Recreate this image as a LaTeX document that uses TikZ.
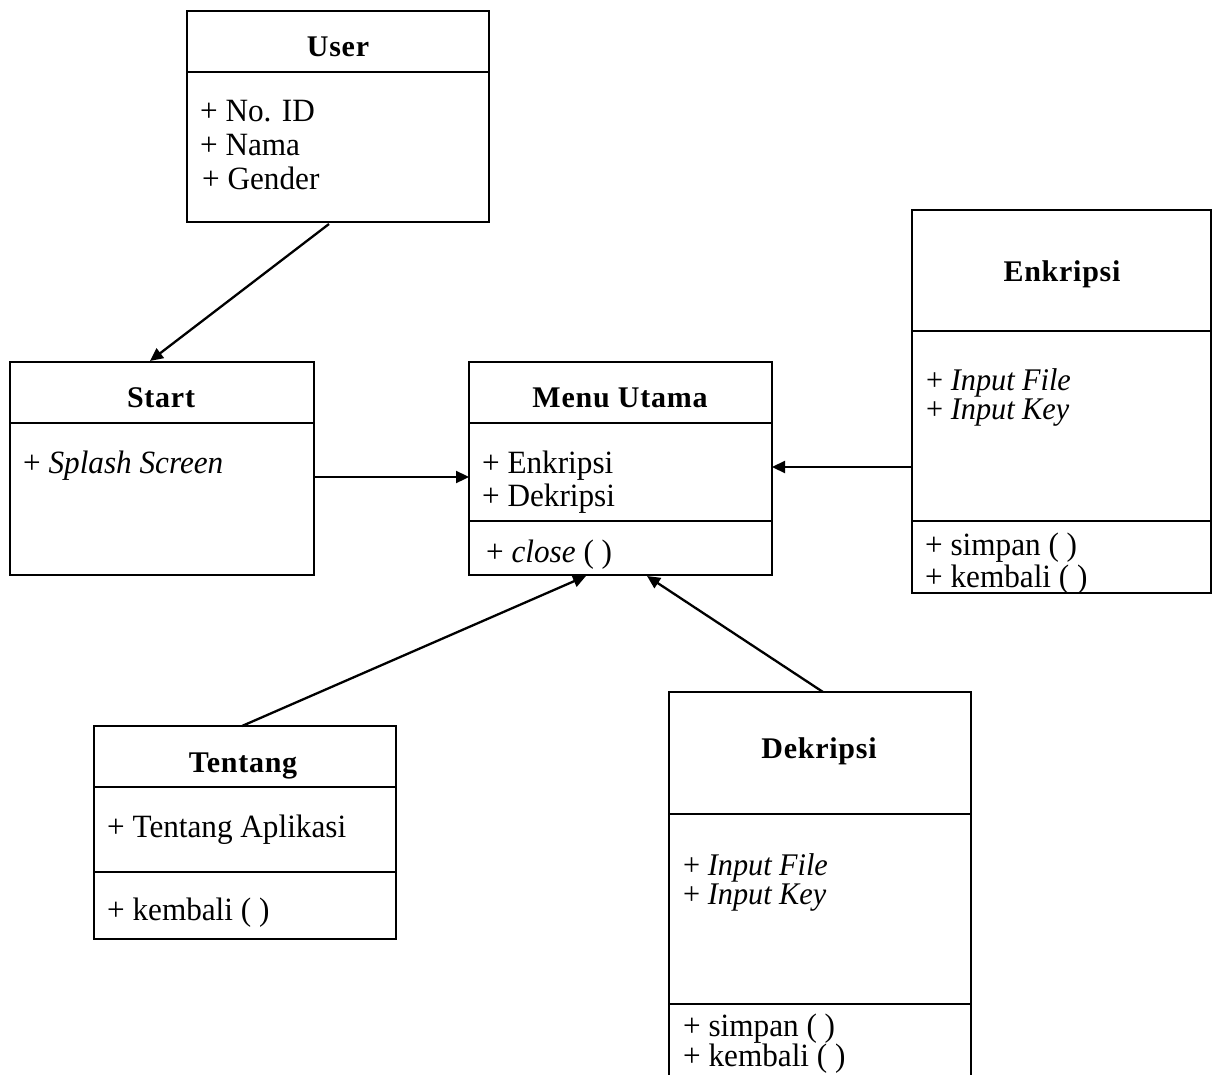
\documentclass[tikz,border=0pt]{standalone}
\usepackage{fontspec}
\setmainfont{Liberation Serif}
\newfontfamily\attrfont{Liberation Serif}[FakeStretch=0.96]
\newfontfamily\titlefont{Liberation Serif}[LetterSpace=2.5]
\usetikzlibrary{arrows.meta}
\begin{document}
\begin{tikzpicture}[x=1pt,y=-1pt,
  box/.style={draw=black,line width=1.6pt},
  sep/.style={draw=black,line width=1.6pt},
  title/.style={font=\titlefont\fontsize{30}{34}\selectfont\bfseries,anchor=base},
  % multi-line nodes: the base anchor sits on the last line
  attr/.style={font=\attrfont\fontsize{32.5}{34}\selectfont,anchor=base west,inner sep=0pt,align=left},
  tight/.style={font=\attrfont\fontsize{31.5}{29}\selectfont},
  link/.style={line width=2.3pt,-{Triangle[length=13pt,width=12pt]}}]
\clip (0,0) rectangle (1212,1075);
\fill[white] (0,0) rectangle (1212,1075);

% User
\draw[box] (187,11) rectangle (489,222);
\draw[sep] (187,72) -- (489,72);
\node[title] (userT) at (338,57) {User};
\node[attr] (userA) at (200,190) {+ No. ID\\+ Nama\\\hspace{2pt}+ Gender};
\coordinate (user) at (329,224);

% Start
\draw[box] (10,362) rectangle (314,575);
\draw[sep] (10,423) -- (314,423);
\node[title] (startT) at (161,407) {Start};
\node[attr] (startA) at (23,473) {+ \textit{Splash Screen}};
\coordinate (startTop) at (150,361);
\coordinate (startR) at (314,477);

% Menu Utama
\draw[box] (469,362) rectangle (772,575);
\draw[sep] (469,423) -- (772,423);
\draw[sep] (469,521) -- (772,521);
\node[title] (menuT) at (620,407) {Menu Utama};
\node[attr,font=\attrfont\fontsize{32.5}{33}\selectfont] (menuA) at (482,506) {+ Enkripsi\\+ Dekripsi};
\node[attr] (menuM) at (486,562) {+ \textit{close} ( )};
\coordinate (menuL) at (469,477);
\coordinate (menuR) at (772,467);
\coordinate (menuB1) at (586,576);
\coordinate (menuB2) at (647,576);

% Enkripsi
\draw[box] (912,210) rectangle (1211,593);
\draw[sep] (912,331) -- (1211,331);
\draw[sep] (912,521) -- (1211,521);
\node[title] (enkT) at (1062,281) {Enkripsi};
\node[attr,tight] (enkA) at (926,419) {+ \textit{Input File}\\+ \textit{Input Key}};
\node[attr,font=\attrfont\fontsize{32.5}{32}\selectfont] (enkM) at (925,587) {+ simpan ( )\\+ kembali ( )};
\coordinate (enkL) at (912,467);

% Tentang
\draw[box] (94,726) rectangle (396,939);
\draw[sep] (94,787) -- (396,787);
\draw[sep] (94,872) -- (396,872);
\node[title] (tenT) at (243,772) {Tentang};
\node[attr] (tenA) at (107,837) {+ Tentang Aplikasi};
\node[attr] (tenM) at (107,920) {+ kembali ( )};
\coordinate (tenTop) at (242,726);

% Dekripsi
\draw[box] (669,692) rectangle (971,1090);
\draw[sep] (669,814) -- (971,814);
\draw[sep] (669,1004) -- (971,1004);
\node[title] (dekT) at (819,758) {Dekripsi};
\node[attr,tight] (dekA) at (683,904) {+ \textit{Input File}\\+ \textit{Input Key}};
\node[attr,font=\attrfont\fontsize{32.5}{30}\selectfont] (dekM) at (683,1066) {+ simpan ( )\\+ kembali ( )};
\coordinate (dekTop) at (823,692);

% Connectors
\draw[link] (user) -- (startTop);
\draw[link] (startR) -- (menuL);
\draw[link] (enkL) -- (menuR);
\draw[link] (tenTop) -- (menuB1);
\draw[link] (dekTop) -- (menuB2);
\end{tikzpicture}
\end{document}
